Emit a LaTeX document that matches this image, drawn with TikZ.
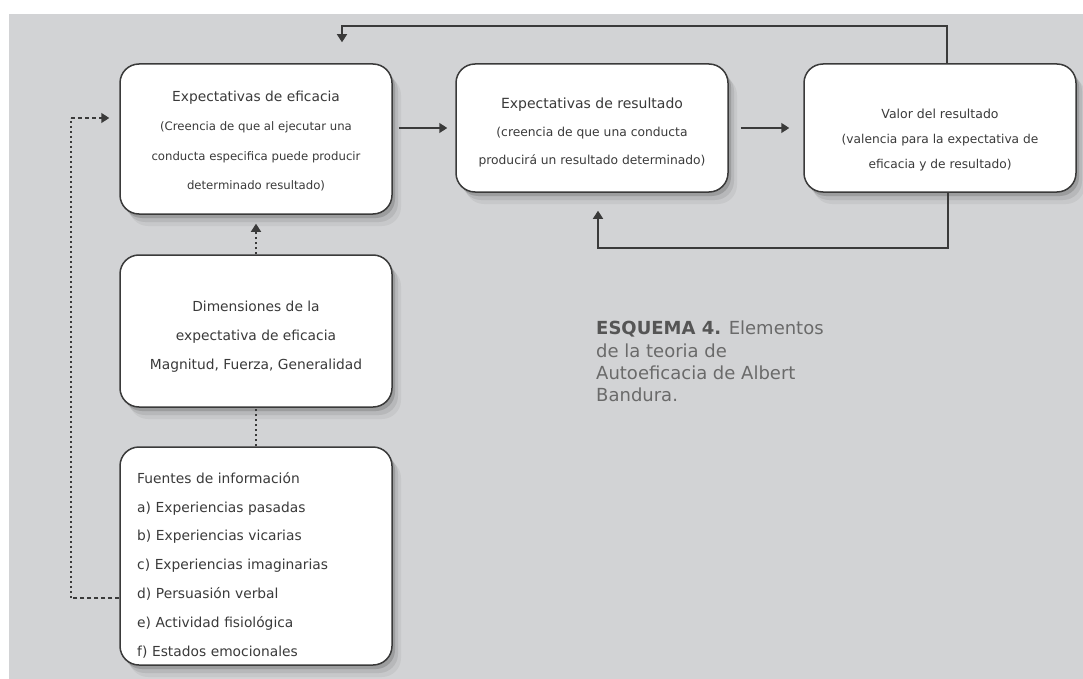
\documentclass[tikz,border=0pt]{standalone}
\usepackage{fontspec}
\setmainfont{DejaVu Sans}
\usetikzlibrary{arrows.meta,calc,shadows}
\definecolor{bggray}{HTML}{D2D3D5}
\definecolor{ink}{HTML}{3A3A3A}
\definecolor{capdark}{HTML}{555555}
\definecolor{caplight}{HTML}{6A6A6A}
\tikzset{
  box/.style={draw=ink, line width=1.5pt, fill=white, rounded corners=19pt,
    minimum width=272pt, text=ink, align=center, inner sep=0pt,
    drop shadow={shadow xshift=3pt, shadow yshift=-4pt, opacity=.14, fill=black},
    drop shadow={shadow xshift=6pt, shadow yshift=-8pt, opacity=.08, fill=black},
    drop shadow={shadow xshift=9pt, shadow yshift=-12pt, opacity=.05, fill=black}},
  txt/.style={text=ink, align=center, inner sep=0pt},
  tip/.style={-{Triangle[length=8pt,width=10pt]}},
  arr/.style={draw=ink, line width=1.5pt, tip},
  dashline/.style={draw=ink, line width=1.5pt, dash pattern=on 4pt off 3pt},
  dotline/.style={draw=ink, line width=1.9pt, dash pattern=on 2pt off 3pt},
}
\begin{document}
\begin{tikzpicture}[x=1pt,y=-1pt]
\useasboundingbox (0,0) rectangle (1083,679);
\fill[white] (0,0) rectangle (1083,679);
\fill[bggray] (9,14) rectangle (1083,679);

% boxes
\node[box, minimum height=150pt] (A) at (256,139) {};
\node[txt, font=\fontsize{11.7}{29.5}\selectfont] (At) at (256,141)
  {{\fontsize{13.8}{29.5}\selectfont Expectativas de eficacia}\\
   (Creencia de que al ejecutar una\\
   conducta especifica puede producir\\
   determinado resultado)};
\node[box, minimum height=128pt] (B) at (592,128) {};
\node[txt, font=\fontsize{12.3}{28}\selectfont] (Bt) at (592,132)
  {{\fontsize{14}{28}\selectfont Expectativas de resultado}\\
   (creencia de que una conducta\\
   producirá un resultado determinado)};
\node[box, minimum height=128pt] (C) at (940,128) {};
\node[txt, font=\fontsize{12.2}{25}\selectfont] (Ct) at (940,140)
  {{\fontsize{12.5}{25}\selectfont Valor del resultado}\\
   (valencia para la expectativa de\\
   eficacia y de resultado)};
\node[box, minimum height=152pt] (D) at (256,331) {};
\node[txt, font=\fontsize{13.8}{29}\selectfont] (Dt) at (256,337)
  {Dimensiones de la\\
   expectativa de eficacia\\
   Magnitud, Fuerza, Generalidad};
\node[box, minimum height=218pt] (E) at (256,556) {};
\node[txt, align=left, text width=250pt, font=\fontsize{13.8}{28.8}\selectfont, anchor=north west] (Et) at (137,472)
  {Fuentes de información\\
   a) Experiencias pasadas\\
   b) Experiencias vicarias\\
   c) Experiencias imaginarias\\
   d) Persuasión verbal\\
   e) Actividad fisiológica\\
   f) Estados emocionales};

% caption
\node[anchor=north west, align=left, inner sep=0pt, text=caplight,
      font=\fontsize{18}{22.3}\selectfont] (cap) at (596,321)
  {{\bfseries\color{capdark}ESQUEMA 4.} Elementos\\
   de la teoria de\\
   Autoeficacia de Albert\\
   Bandura.};

% connectors
\draw[arr] ($(A.east|-B.west)+(6,0)$) -- ($(B.west)+(-8,0)$);
\draw[arr] ($(B.east)+(12,0)$) -- ($(C.west)+(-14,0)$);
\draw[arr] ($(C.north)+(7,0)$) -- ++(0,-37) -| ($(A.north)+(86,-21)$);
\draw[arr] ($(C.south)+(8,0)$) -- ++(0,55) -| ($(B.south)+(6,18)$);
\draw[dotline] (D.north) -- ($(A.south)+(0,17)$);
\draw[arr] ($(A.south)+(0,17)$) -- ($(A.south)+(0,9)$);
\draw[dotline] (E.north) -- (D.south);
\coordinate (lb) at ($(E.west)+(-48,42)$);
\coordinate (lt) at ($(A.west)+(-48,-21)$);
\draw[dashline] ($(E.west)+(0,42)$) -- (lb);
\draw[dotline] (lb) -- (lt);
\draw[dashline, tip] (lt) -- ($(A.west)+(-10,-21)$);
\end{tikzpicture}
\end{document}
